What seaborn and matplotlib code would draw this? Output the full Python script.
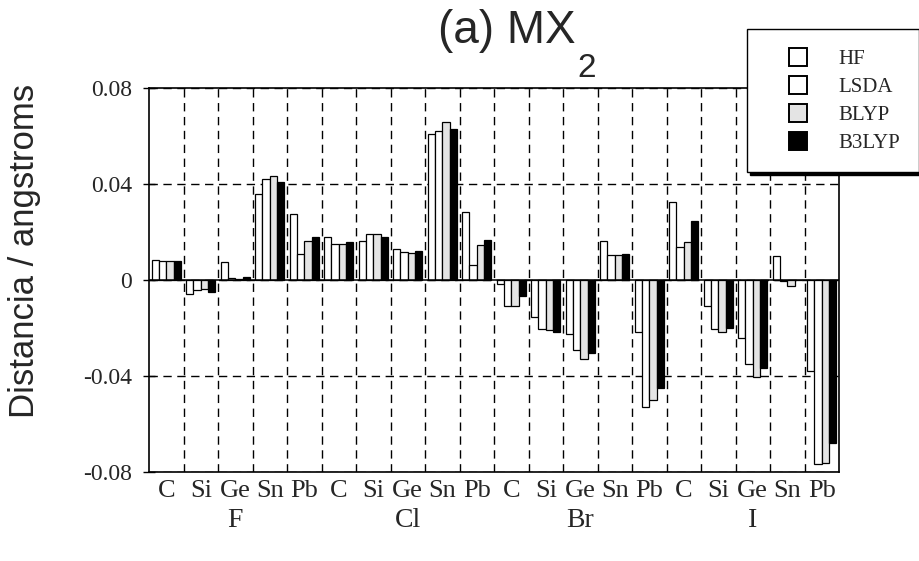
import numpy as np
import pandas as pd
import matplotlib
matplotlib.use("Agg")
import matplotlib.pyplot as plt
from matplotlib.patches import Patch, Rectangle
from matplotlib.legend_handler import HandlerPatch
import seaborn as sns

# data (angstroms)
metals = ["C", "Si", "Ge", "Sn", "Pb"]
halides = ["F", "Cl", "Br", "I"]
methods = ["HF", "LSDA", "BLYP", "B3LYP"]

hf = [0.0085, -0.006, 0.0076, 0.036, 0.0276,
      0.018, 0.0164, 0.013, 0.061, 0.0285,
      -0.0015, -0.0155, -0.0225, 0.0163, -0.0215,
      0.0324, -0.011, -0.024, 0.0099, -0.038]
lsda = [0.008, -0.0042, 0.0008, 0.042, 0.011,
        0.015, 0.019, 0.0117, 0.062, 0.0064,
        -0.011, -0.0205, -0.029, 0.0103, -0.053,
        0.0138, -0.0206, -0.035, -0.0006, -0.0766]
blyp = [0.0078, -0.0038, 0.0003, 0.0435, 0.0163,
        0.015, 0.019, 0.0114, 0.066, 0.0148,
        -0.011, -0.021, -0.033, 0.0103, -0.050,
        0.0159, -0.0216, -0.0404, -0.0026, -0.0763]
b3lyp = [0.0078, -0.0048, 0.0012, 0.041, 0.018,
         0.016, 0.018, 0.012, 0.063, 0.0167,
         -0.0068, -0.0215, -0.0305, 0.0107, -0.045,
         0.0246, -0.0199, -0.0366, 0.0, -0.0678]

yticks = [-0.08, -0.04, 0, 0.04, 0.08]
ytick_labels = ["-0.08", "-0.04", "0", "0.04", "0.08"]

keys = [h + "-" + m for h in halides for m in metals]
rows = []
for meth, vals in zip(methods, [hf, lsda, blyp, b3lyp]):
    for k, v in zip(keys, vals):
        rows.append({"key": k, "method": meth, "value": v})
df = pd.DataFrame(rows)

sns.set_style("white")
plt.rcParams["font.family"] = ["Liberation Serif", "DejaVu Serif"]
sans = ["Liberation Sans", "DejaVu Sans"]

fig = plt.figure(figsize=(9.2, 5.61), dpi=100)
ax = fig.add_axes([0.162, 0.1586, 0.75, 0.6845])

colors = ["white", "white", "#e4e4e4", "black"]
sns.barplot(data=df, x="key", y="value", hue="method", order=keys,
            hue_order=methods, palette=colors, saturation=1, width=0.85,
            edgecolor="black", linewidth=0.9, errorbar=None, legend=False,
            ax=ax)

ax.set_xlim(-0.5, len(keys) - 0.5)
ax.set_ylim(-0.08, 0.08)
ax.set_xlabel("")
ax.set_ylabel("")

ax.set_xticks(range(len(keys)))
ax.set_xticklabels(metals * 4, fontsize=19)
ax.set_xticks(np.arange(0.5, len(keys) - 1, 1), minor=True)
ax.set_yticks(yticks)
ax.set_yticklabels(ytick_labels, fontsize=17)

ax.tick_params(axis="x", which="major", length=0, pad=6)
ax.tick_params(axis="x", which="minor", length=8, width=1,
               direction="inout", color="black")
ax.tick_params(axis="y", which="major", length=8, width=1,
               direction="inout", color="black", pad=8, left=True)

dash = (0, (6, 4))
ax.set_axisbelow(True)
ax.xaxis.grid(True, which="minor", linestyle=dash, color="black", lw=1)
ax.xaxis.grid(False, which="major")
ax.yaxis.grid(True, which="major", linestyle=dash, color="black", lw=1)
ax.axhline(0, color="black", lw=1.1, zorder=1)

for s in ax.spines.values():
    s.set_color("black")
    s.set_linewidth(1.2)

# halide group labels
for i, h in enumerate(halides):
    ax.text(i * 5 + 2, -0.125, h, transform=ax.get_xaxis_transform(),
            ha="center", va="center", fontsize=20)

fig.text(0.027, 0.552, "Distancia / angstroms", rotation=90,
         ha="center", va="center", fontsize=25, family=sans)

# title with a deep subscript
fig.text(438 / 920, 1 - 43 / 561, "(a) MX", fontsize=33, family=sans,
         va="baseline", ha="left")
fig.text(577 / 920, 1 - 77 / 561, "2", fontsize=24, family=sans,
         va="baseline", ha="left")


# square legend keys sitting at the right end of the handle slot
def square_key(legend, orig_handle, xdescent, ydescent, width, height, fontsize):
    return Rectangle((-xdescent + width - height, -ydescent), height, height)


handles = [Patch(facecolor=c, edgecolor="black", lw=1.4) for c in colors]
fig.legend(handles, methods, loc="upper left",
           bbox_to_anchor=(747 / 920, 1 - 29 / 561), borderaxespad=0,
           prop={"size": 15}, frameon=True, fancybox=False,
           edgecolor="black", framealpha=1,
           shadow={"color": "black", "alpha": 1}, handlelength=2.0,
           handleheight=0.96, labelspacing=0.33, handletextpad=1.5,
           borderpad=0.9,
           handler_map={Patch: HandlerPatch(patch_func=square_key)})

fig.savefig("out.png", dpi=100)
